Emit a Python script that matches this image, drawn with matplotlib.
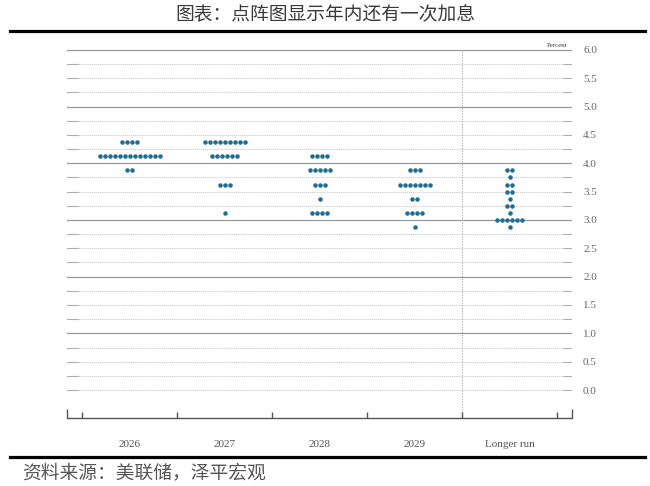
import numpy as np
import matplotlib
matplotlib.use('Agg')
import matplotlib.pyplot as plt
from matplotlib.lines import Line2D
import matplotlib.transforms as mtransforms

plt.rcParams['font.family'] = ['Noto Sans CJK SC', 'DejaVu Sans']

# ---- 数据 ----
columns = ['2026', '2027', '2028', '2029', 'Longer run']

levels_2026 = [4.375, 4.125, 3.875]
counts_2026 = [4, 13, 2]

levels_2027 = [4.375, 4.125, 3.625, 3.125]
counts_2027 = [9, 6, 3, 1]

levels_2028 = [4.125, 3.875, 3.625, 3.375, 3.125]
counts_2028 = [4, 5, 3, 1, 4]

levels_2029 = [3.875, 3.625, 3.375, 3.125, 2.875]
counts_2029 = [3, 7, 2, 4, 1]

levels_long = [3.875, 3.75, 3.625, 3.5, 3.375, 3.25, 3.125, 3.0, 2.875]
counts_long = [2, 1, 2, 2, 1, 2, 1, 6, 1]

y_labels = [0.0, 0.5, 1.0, 1.5, 2.0, 2.5, 3.0, 3.5, 4.0, 4.5, 5.0, 5.5, 6.0]

all_levels = [levels_2026, levels_2027, levels_2028, levels_2029, levels_long]
all_counts = [counts_2026, counts_2027, counts_2028, counts_2029, counts_long]

# ---- 画图 ----
W, H = 650, 486
fig = plt.figure(figsize=(6.5, 4.86), dpi=100)

def fy(py):
    return 1 - py / H

x_left, x_right = -0.663, 4.653
y_bot, y_top = -0.494, 6.176
ax = fig.add_axes([67 / W, fy(418), 505 / W, (418 - 40) / H])
ax.set_xlim(x_left, x_right)
ax.set_ylim(y_bot, y_top)

# 网格线
for v in np.arange(0, 6.01, 0.25):
    if v > 0 and abs(v - round(v)) < 1e-9:
        ax.plot([x_left, x_right], [v, v], color='#9a9a9a', lw=0.9, zorder=1)
    else:
        ax.plot([-0.547, 4.558], [v, v], color='#c4c4c4', lw=0.7,
                linestyle=(0, (1, 1)), zorder=1)
        ax.plot([x_left, -0.547], [v, v], color='#b0b0b0', lw=0.8, zorder=1)
        ax.plot([4.558, x_right], [v, v], color='#b0b0b0', lw=0.8, zorder=1)

# 分隔虚线
ax.plot([3.5, 3.5], [y_bot, 6.0], color='#b0b0b0', lw=0.8,
        linestyle=(0, (1.2, 1.2)), zorder=1)

# 点阵
step = 0.0526
for i, (lv, ct) in enumerate(zip(all_levels, all_counts)):
    xs, ys = [], []
    for level, n in zip(lv, ct):
        for k in range(n):
            xs.append(i + (k - (n - 1) / 2) * step)
            ys.append(level)
    ax.scatter(xs, ys, s=10.5, color='#1f6d93', linewidths=0, zorder=3)

# 坐标轴
for s in ['top', 'left', 'right']:
    ax.spines[s].set_visible(False)
ax.spines['bottom'].set_color('#555555')
ax.spines['bottom'].set_linewidth(1.0)

ax.yaxis.tick_right()
ax.set_yticks(y_labels)
ax.set_yticklabels([f'{v:.1f}' for v in y_labels], family='Liberation Serif',
                   fontsize=8, color='#666666')
ax.tick_params(axis='y', length=0, pad=8)

ax.set_xticks(range(len(columns)))
ax.set_xticklabels(columns, family='Liberation Serif', fontsize=8, color='#555555')
ax.set_xticks(np.arange(-0.5, 4.51, 1.0), minor=True)
ax.tick_params(axis='x', which='major', length=0, pad=16)
ax.tick_params(axis='x', which='minor', direction='in', length=4.5,
               width=1.0, color='#555555')

trans = mtransforms.blended_transform_factory(ax.transData, ax.transAxes)
ax.vlines([x_left + 0.004, x_right - 0.004], 0, 9 / 378, transform=trans,
          color='#555555', lw=1.0, clip_on=False)

ax.text(4.61, 6.08, 'Percent', family='Liberation Serif', fontsize=5,
        color='#444444', ha='right', va='center')

# 标题和来源
fig.text(325 / W, fy(15), '图表：点阵图显示年内还有一次加息', ha='center', va='center',
         fontsize=13.5, color='#3a3a3a', fontweight='light')
fig.add_artist(Line2D([10 / W, 645 / W], [fy(31), fy(31)], color='black',
                      lw=2.3, transform=fig.transFigure))
fig.add_artist(Line2D([10 / W, 645 / W], [fy(457), fy(457)], color='black',
                      lw=2.3, transform=fig.transFigure))
fig.text(22 / W, fy(473), '资料来源：美联储，泽平宏观', ha='left', va='center',
         fontsize=13.5, color='#555555', fontweight='light')

fig.savefig('out.png', dpi=100)
